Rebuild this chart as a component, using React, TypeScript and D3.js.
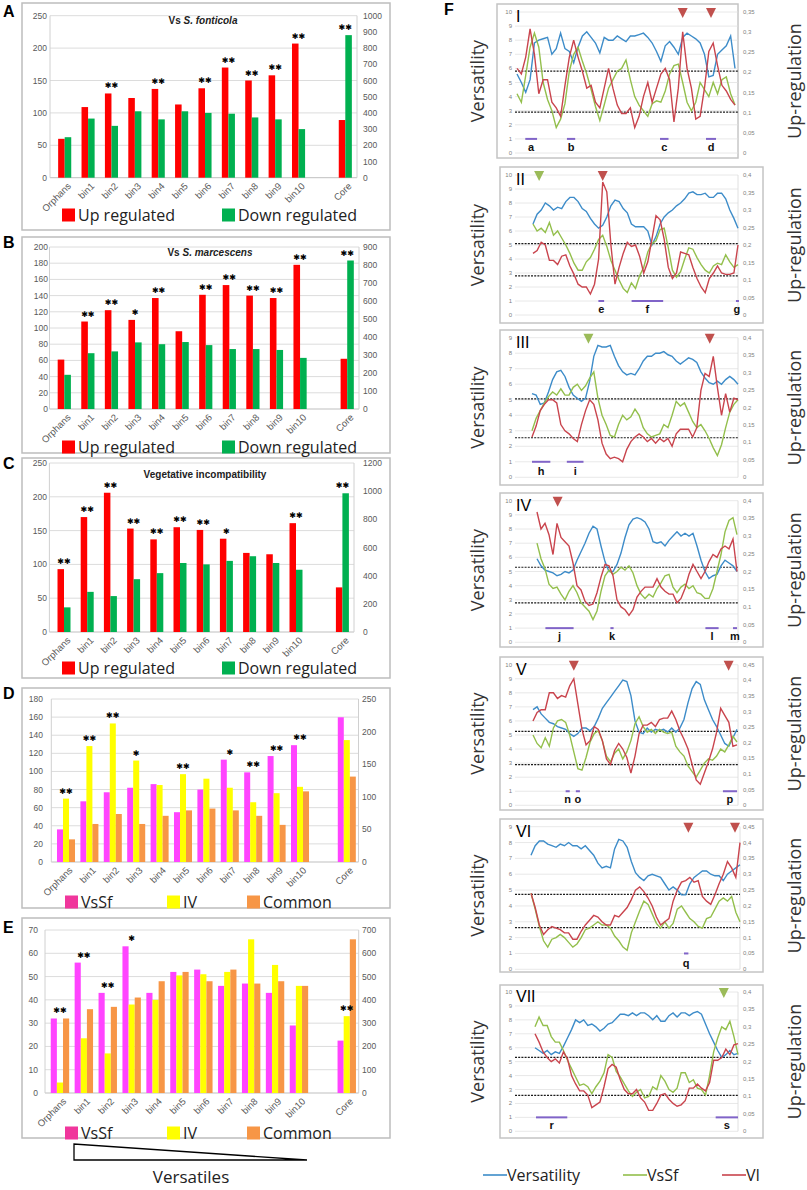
import * as d3 from 'd3';

// ---------- A–E : bar charts ----------
const CATEGORIES = ['Orphans', 'bin1', 'bin2', 'bin3', 'bin4', 'bin5', 'bin6', 'bin7', 'bin8', 'bin9', 'bin10', 'Core'];
const SLOTS = [...CATEGORIES.slice(0, 11), '', 'Core'];

const A_UP = [60, 109, 130, 123, 137, 113, 138, 170, 150, 158, 207, 89];
const A_DOWN = [250, 365, 320, 410, 360, 410, 400, 395, 372, 360, 300, 880];
const A_SIG = ['', '', '**', '', '**', '', '**', '**', '**', '**', '**', '**'];

const B_UP = [61, 108, 122, 110, 137, 96, 141, 153, 140, 137, 178, 62];
const B_DOWN = [190, 310, 320, 370, 360, 372, 355, 333, 333, 328, 284, 825];
const B_SIG = ['', '**', '**', '*', '**', '', '**', '**', '**', '**', '**', '**'];

const C_UP = [93, 170, 206, 153, 137, 155, 151, 138, 117, 115, 161, 66];
const C_DOWN = [175, 285, 255, 375, 418, 490, 480, 505, 538, 490, 442, 985];
const C_SIG = ['**', '**', '**', '**', '**', '**', '**', '*', '', '', '**', '**'];

const D_VSSF = [36, 67, 77, 82, 86, 55, 80, 113, 99, 117, 129, 222];
const D_IV = [70, 128, 153, 112, 85, 97, 92, 82, 66, 76, 83, 187];
const D_COMMON = [25, 42, 53, 42, 51, 57, 59, 57, 51, 41, 78, 131];
const D_SIG = ['**', '**', '**', '*', '', '**', '', '*', '**', '**', '**', ''];

const E_VSSF = [32, 56, 43, 63, 43, 52, 53, 46, 47, 43, 29, 225];
const E_IV = [4.5, 23.5, 17, 38, 40, 50.5, 51, 52, 66, 55, 46, 330];
const E_COMMON = [32, 36, 37, 41, 48, 52, 48, 53, 47, 48, 46, 660];
const E_SIG = ['**', '**', '**', '*', '', '', '', '', '', '', '', '**'];
const E_STAR_ON = [null, null, null, null, null, null, null, null, null, null, null, 1];

const RED = '#ff0000';
const GREEN = '#00b050';
const MAGENTA = '#ff44ff';
const YELLOW = '#ffff00';
const ORANGE = '#f79646';

const SANS = '"Liberation Sans", Arial, sans-serif';
const OPEN = '"Open Sans", "Noto Sans", sans-serif';

const UPDOWN_LEGEND = [
  { label: 'Up regulated', color: RED },
  { label: 'Down regulated', color: GREEN },
];
const OVERLAP_LEGEND = [
  { label: 'VsSf', color: '#f0369c' },
  { label: 'IV', color: YELLOW },
  { label: 'Common', color: ORANGE },
];

const BAR_PANELS = [
  {
    letter: 'A', title: ['Vs ', 'S. fonticola'], leftMax: 250, leftStep: 50, rightMax: 1000, rightStep: 100, pad: 0.44,
    series: [{ values: A_UP, color: RED, axis: 'left' }, { values: A_DOWN, color: GREEN, axis: 'right' }],
    sig: A_SIG, legend: UPDOWN_LEGEND,
    layout: { box: [22, 3, 390, 230], letterY: 17, titleX: 203, titleY: 24, x0: 53, x1: 357, yTop: 15.7, yBottom: 177.7, leftX: 47, rightX: 363, legendY: 215, legendX: [62, 222] },
  },
  {
    letter: 'B', title: ['Vs ', 'S. marcescens'], leftMax: 200, leftStep: 20, rightMax: 900, rightStep: 100, pad: 0.44,
    series: [{ values: B_UP, color: RED, axis: 'left' }, { values: B_DOWN, color: GREEN, axis: 'right' }],
    sig: B_SIG, legend: UPDOWN_LEGEND,
    layout: { box: [22, 237, 390, 453], letterY: 248, titleX: 210, titleY: 256, x0: 52.5, x1: 359, yTop: 247, yBottom: 409, leftX: 48, rightX: 363, legendY: 447, legendX: [62, 222] },
  },
  {
    letter: 'C', title: ['Vegetative incompatibility', ''], leftMax: 250, leftStep: 50, rightMax: 1200, rightStep: 200, pad: 0.44,
    series: [{ values: C_UP, color: RED, axis: 'left' }, { values: C_DOWN, color: GREEN, axis: 'right' }],
    sig: C_SIG, legend: UPDOWN_LEGEND,
    layout: { box: [22, 458, 390, 678], letterY: 469, titleX: 205, titleY: 478, x0: 52.4, x1: 354, yTop: 463, yBottom: 632, leftX: 47, rightX: 363, legendY: 668, legendX: [62, 222] },
  },
  {
    letter: 'D', title: ['', ''], leftMax: 180, leftStep: 20, rightMax: 250, rightStep: 50, pad: 0.23,
    series: [
      { values: D_VSSF, color: MAGENTA, axis: 'coreRight' },
      { values: D_IV, color: YELLOW, axis: 'coreRight' },
      { values: D_COMMON, color: ORANGE, axis: 'coreRight' },
    ],
    sig: D_SIG, legend: OVERLAP_LEGEND,
    layout: { box: [22, 688, 390, 908], letterY: 699, titleX: 0, titleY: 0, x0: 54.3, x1: 358.5, yTop: 699, yBottom: 862, leftX: 43, rightX: 362, legendY: 902, legendX: [65, 167, 247] },
  },
  {
    letter: 'E', title: ['', ''], leftMax: 70, leftStep: 10, rightMax: 700, rightStep: 100, pad: 0.23,
    series: [
      { values: E_VSSF, color: MAGENTA, axis: 'coreRight' },
      { values: E_IV, color: YELLOW, axis: 'coreRight' },
      { values: E_COMMON, color: ORANGE, axis: 'coreRight' },
    ],
    sig: E_SIG, starOn: E_STAR_ON, legend: OVERLAP_LEGEND,
    layout: { box: [22, 918, 390, 1138], letterY: 933, titleX: 0, titleY: 0, x0: 48, x1: 358.7, yTop: 930, yBottom: 1093, leftX: 38, rightX: 362, legendY: 1133, legendX: [65, 167, 247] },
  },
];

// ---------- F : sliding-window profiles ----------
const VERS_I = [5.6, 5.0, 4.3, 5.2, 7.8, 8.0, 8.1, 8.2, 7.0, 7.4, 8.5, 7.4, 7.2, 6.4, 7.5, 8.3, 8.6, 8.2, 7.8, 7.1, 8.2, 8.0, 8.0, 8.3, 8.1, 7.9, 8.3, 8.3, 8.4, 8.5, 8.2, 7.8, 7.2, 6.5, 7.6, 7.9, 7.5, 7.0, 8.2, 8.5, 8.3, 8.1, 7.8, 7.0, 5.4, 5.5, 7.0, 7.3, 7.6, 8.3, 6.0];
const VSSF_I = [4.2, 3.6, 5.5, 7.5, 8.5, 7.5, 5.0, 3.8, 3.0, 1.8, 2.4, 3.5, 5.8, 7.0, 7.5, 6.5, 5.6, 4.5, 3.3, 2.3, 3.4, 4.6, 5.2, 5.8, 6.0, 6.6, 5.2, 4.0, 3.4, 3.0, 2.6, 3.5, 3.7, 3.6, 4.4, 5.6, 6.2, 6.3, 5.0, 3.6, 3.0, 3.6, 5.0, 4.5, 4.0, 5.0, 4.2, 5.2, 5.4, 4.2, 3.4];
const VI_I = [6.0, 5.6, 6.8, 8.8, 7.0, 4.2, 5.2, 5.2, 3.6, 3.2, 2.6, 4.8, 6.8, 8.0, 6.8, 5.8, 4.6, 4.8, 3.6, 3.2, 4.6, 6.0, 4.6, 3.4, 2.8, 2.8, 3.2, 1.8, 2.6, 4.0, 5.0, 3.6, 4.6, 5.6, 6.0, 5.2, 2.2, 4.6, 8.6, 6.0, 4.6, 2.4, 2.6, 4.6, 7.2, 7.8, 6.2, 4.8, 4.4, 3.8, 3.4];

const VERS_II = [6.5, 7.2, 7.5, 8.0, 7.8, 7.5, 7.7, 7.6, 8.1, 8.4, 8.4, 8.1, 7.6, 7.4, 6.9, 6.5, 6.2, 6.4, 7.0, 7.8, 8.2, 8.1, 7.6, 7.3, 6.5, 6.3, 6.3, 6.3, 6.0, 5.0, 5.6, 6.5, 7.0, 7.3, 7.5, 7.8, 8.0, 8.3, 8.7, 8.8, 8.6, 8.6, 8.7, 8.4, 8.4, 8.7, 8.7, 8.3, 7.5, 6.9, 6.2];
const VSSF_II = [6.5, 6.0, 6.2, 5.9, 6.6, 5.7, 6.0, 5.5, 5.0, 4.4, 3.7, 3.2, 3.2, 3.8, 4.1, 4.7, 5.4, 5.7, 4.9, 3.9, 3.2, 2.5, 1.9, 1.6, 2.3, 1.9, 2.8, 3.4, 4.5, 5.1, 5.3, 6.1, 6.2, 4.8, 3.2, 2.7, 3.1, 4.0, 4.8, 4.7, 4.1, 3.6, 3.2, 3.0, 3.5, 3.7, 3.6, 4.3, 3.8, 3.4, 3.6];
const VI_II = [4.4, 4.6, 5.2, 5.0, 3.9, 3.9, 3.6, 4.2, 4.3, 3.5, 2.9, 2.2, 2.0, 2.0, 1.5, 2.2, 4.0, 9.5, 8.8, 5.0, 2.2, 3.4, 4.4, 5.2, 4.9, 5.0, 4.2, 3.0, 3.8, 5.4, 7.1, 6.8, 5.4, 3.4, 2.6, 3.0, 4.5, 4.4, 4.3, 3.4, 2.6, 2.0, 1.6, 2.6, 3.0, 3.5, 3.0, 2.9, 2.9, 3.0, 5.0];

const VERS_III = [5.4, 5.3, 4.7, 4.8, 5.5, 6.3, 6.8, 6.9, 6.5, 5.8, 5.3, 5.1, 4.9, 5.1, 6.2, 7.8, 8.5, 8.4, 8.4, 8.5, 7.8, 7.2, 6.8, 6.6, 6.7, 6.6, 7.0, 7.5, 7.8, 7.8, 8.0, 8.0, 8.1, 7.9, 7.8, 7.5, 7.3, 7.5, 7.7, 7.6, 7.4, 6.8, 6.4, 6.1, 6.0, 6.2, 6.0, 6.3, 6.5, 6.3, 6.0];
const VSSF_III = [3.0, 3.8, 4.3, 4.8, 5.2, 5.5, 5.3, 5.7, 5.3, 5.3, 5.8, 6.0, 5.6, 5.9, 6.4, 6.8, 5.1, 4.0, 3.4, 2.7, 2.6, 3.4, 4.0, 3.7, 3.9, 4.4, 4.0, 3.2, 2.8, 2.6, 2.7, 2.8, 3.4, 3.2, 4.0, 4.9, 4.6, 4.8, 4.2, 3.6, 3.2, 3.4, 3.0, 2.5, 1.9, 1.4, 2.1, 3.2, 4.2, 4.7, 5.0];
const VI_III = [2.6, 3.3, 4.3, 4.7, 5.0, 5.0, 4.8, 3.4, 3.0, 2.8, 2.5, 2.3, 3.4, 4.3, 5.0, 4.7, 3.7, 2.2, 1.5, 1.2, 1.3, 1.2, 1.0, 1.8, 2.3, 2.6, 2.8, 2.6, 2.3, 2.5, 2.2, 2.5, 2.3, 2.5, 2.0, 2.8, 3.1, 3.1, 3.1, 2.6, 3.2, 5.6, 6.7, 6.5, 7.8, 5.8, 4.0, 5.4, 4.2, 5.1, 5.0];

const VERS_IV = [5.9, 5.4, 5.1, 5.0, 4.9, 4.7, 4.8, 5.0, 4.9, 5.1, 5.8, 6.4, 7.0, 7.7, 8.2, 8.0, 6.8, 5.7, 5.0, 5.0, 5.5, 6.3, 7.4, 8.3, 8.7, 8.8, 8.7, 8.5, 8.0, 7.1, 7.0, 7.1, 6.8, 7.2, 7.5, 7.8, 7.5, 7.7, 7.5, 7.7, 6.8, 5.8, 5.0, 4.5, 4.7, 4.8, 5.4, 5.8, 5.6, 5.4, 5.0];
const VSSF_IV = [7.0, 5.9, 5.2, 4.1, 3.8, 3.9, 3.4, 3.0, 3.6, 4.0, 3.5, 2.8, 2.5, 2.2, 1.6, 2.2, 3.6, 4.7, 5.1, 4.8, 5.0, 5.3, 5.1, 5.4, 4.9, 4.0, 3.4, 3.1, 3.4, 3.2, 3.8, 4.2, 4.7, 4.8, 3.9, 3.5, 3.9, 4.1, 3.8, 4.0, 3.5, 3.4, 3.1, 3.1, 3.8, 5.0, 6.2, 7.8, 8.6, 8.8, 7.6];
const VI_IV = [9.2, 8.0, 8.4, 7.6, 6.2, 8.4, 7.4, 7.1, 6.8, 5.6, 4.0, 3.7, 2.9, 2.6, 2.7, 3.5, 4.6, 5.5, 5.4, 4.7, 3.0, 2.5, 2.3, 1.9, 2.3, 3.2, 3.6, 3.9, 3.9, 3.9, 4.5, 3.9, 3.6, 3.4, 3.4, 2.8, 3.1, 3.8, 4.8, 5.5, 5.0, 4.5, 5.0, 5.7, 6.2, 6.0, 6.6, 6.8, 6.6, 7.3, 5.0];

const VERS_V = [6.8, 7.0, 6.5, 6.2, 5.9, 5.8, 5.6, 5.5, 5.4, 5.1, 4.9, 5.1, 5.5, 5.5, 5.3, 5.6, 6.2, 6.9, 7.3, 7.7, 8.1, 8.5, 8.9, 8.8, 7.8, 6.0, 5.2, 5.1, 5.5, 5.2, 5.4, 5.3, 5.4, 5.2, 5.5, 5.2, 5.5, 6.1, 7.3, 8.3, 8.8, 8.6, 7.5, 6.8, 6.1, 5.6, 5.0, 4.4, 4.2, 4.8, 5.4];
const VSSF_V = [5.0, 4.4, 4.1, 4.8, 4.2, 5.5, 6.0, 6.1, 5.9, 5.0, 3.8, 2.6, 2.5, 3.4, 4.5, 5.1, 5.3, 4.6, 3.5, 3.1, 3.7, 4.0, 3.3, 3.8, 4.6, 5.8, 6.3, 5.6, 5.2, 5.4, 5.1, 5.4, 5.2, 5.1, 5.2, 4.2, 3.8, 3.5, 2.8, 2.4, 2.0, 2.5, 3.0, 3.3, 3.2, 3.5, 4.0, 3.8, 4.3, 4.9, 4.5];
const VI_V = [6.0, 6.6, 6.8, 6.8, 8.0, 8.0, 7.6, 7.8, 7.7, 8.5, 9.0, 7.2, 5.4, 4.3, 4.6, 5.6, 5.4, 4.6, 3.3, 2.9, 3.9, 4.4, 4.0, 3.4, 2.3, 3.5, 5.1, 5.7, 5.7, 5.9, 5.6, 6.1, 6.2, 6.2, 6.7, 6.1, 5.3, 4.7, 4.0, 2.9, 1.8, 1.5, 2.3, 3.1, 4.0, 5.2, 6.9, 6.4, 5.9, 4.2, 4.3];

const VERS_VI = [7.2, 7.8, 8.1, 8.1, 7.9, 7.8, 7.7, 7.9, 7.8, 8.0, 7.8, 7.8, 7.6, 7.8, 7.5, 7.2, 6.7, 6.4, 6.5, 6.4, 7.6, 8.2, 8.1, 7.7, 6.8, 6.1, 5.8, 5.6, 5.9, 6.0, 5.9, 5.8, 5.4, 5.0, 5.2, 5.0, 4.7, 4.7, 5.4, 5.8, 6.0, 6.2, 6.2, 6.0, 5.9, 5.9, 5.6, 6.0, 6.2, 6.4, 6.6];
const VSSF_VI = [4.8, 3.8, 2.7, 1.8, 1.4, 1.9, 2.0, 2.2, 2.0, 1.7, 1.4, 1.6, 2.0, 2.5, 2.6, 2.8, 3.0, 2.8, 2.8, 2.6, 2.1, 1.8, 1.4, 1.2, 2.3, 3.0, 3.7, 4.3, 4.1, 3.5, 2.9, 2.6, 3.0, 2.6, 2.9, 3.8, 4.0, 3.6, 3.2, 3.0, 2.7, 2.6, 3.2, 3.3, 3.8, 4.3, 4.5, 4.3, 4.6, 3.6, 3.0];
const VI_VI = [4.8, 3.9, 2.8, 2.2, 2.5, 2.7, 2.6, 2.5, 2.3, 2.3, 1.9, 1.9, 2.4, 2.8, 3.1, 3.4, 3.3, 3.0, 2.8, 2.8, 3.4, 3.3, 3.6, 3.9, 4.4, 5.0, 5.2, 4.9, 4.5, 4.0, 3.3, 2.8, 3.0, 3.2, 4.3, 5.0, 5.5, 5.6, 5.8, 5.5, 5.6, 4.6, 4.3, 4.1, 4.7, 5.4, 6.0, 6.8, 6.4, 5.8, 8.0];

const VERS_VII = [6.0, 5.8, 5.6, 5.8, 5.5, 5.7, 5.6, 6.1, 6.7, 7.3, 8.0, 7.8, 8.0, 7.6, 7.7, 7.5, 7.2, 7.4, 7.7, 7.8, 8.1, 8.4, 8.4, 8.3, 8.5, 8.3, 8.5, 8.5, 8.3, 8.0, 8.3, 7.9, 7.9, 8.3, 8.5, 8.2, 8.5, 8.5, 8.3, 8.5, 8.6, 8.4, 7.7, 7.0, 6.4, 5.8, 5.3, 5.5, 5.8, 5.5, 5.6];
const VSSF_VII = [7.5, 8.2, 7.6, 7.6, 6.8, 6.4, 6.4, 5.8, 5.1, 4.5, 3.9, 3.3, 3.4, 3.2, 2.7, 3.2, 3.6, 4.2, 5.5, 5.3, 4.3, 3.9, 3.4, 2.9, 2.5, 2.8, 3.0, 2.4, 2.5, 3.2, 3.0, 4.0, 3.6, 3.0, 2.8, 3.1, 4.2, 4.2, 3.5, 3.7, 3.1, 3.0, 2.6, 4.0, 5.7, 6.7, 7.5, 7.3, 7.9, 6.8, 5.5];
const VI_VII = [7.0, 6.4, 5.7, 5.3, 5.0, 5.2, 4.9, 5.7, 5.2, 4.0, 3.4, 2.9, 2.9, 2.6, 1.7, 1.9, 2.1, 3.2, 4.5, 4.8, 4.6, 3.7, 3.0, 2.7, 2.7, 3.0, 2.4, 2.1, 1.5, 1.5, 2.0, 2.6, 2.7, 2.3, 2.0, 1.8, 1.9, 2.2, 3.1, 3.1, 3.4, 3.1, 2.9, 3.5, 5.1, 5.1, 5.3, 5.9, 5.5, 6.2, 6.3];

const F_NAMES = ['I', 'II', 'III', 'IV', 'V', 'VI', 'VII'];
const F_LEFT_MAX = [10, 10, 9, 10, 10, 9, 10];
const F_RIGHT_MAX = [0.35, 0.4, 0.4, 0.4, 0.45, 0.45, 0.4];
const F_THRESHOLDS = [[5.8, 2.9], [5.1, 2.8], [5.05, 2.55], [5.3, 2.78], [5.26, 2.89], [4.73, 2.63], [5.31, 2.58]];
// regions: [label, start %, end %] along the window axis
const F_SEGMENTS = [
  [['a', 3.8, 9.2], ['b', 22.9, 26.7], ['c', 65.6, 69.5], ['d', 86.7, 91.3]],
  [['e', 31.9, 34.7], ['f', 48.1, 63.5], ['g', 99, 100]],
  [['h', 0, 8.9], ['i', 16.9, 25]],
  [['j', 4.2, 18.3], ['k', 36.7, 38.3], ['l', 84.2, 90.8], ['m', 98, 100]],
  [['n', 16, 18], ['o', 21, 23], ['p', 93.1, 100]],
  [['q', 73.2, 75.3]],
  [['r', 0.5, 15.9], ['s', 89, 100]],
];
// peak flags: [series, position %]
const F_PEAKS = [
  [['VI', 76], ['VI', 89]],
  [['VsSf', 3], ['VI', 34]],
  [['VsSf', 27.4], ['VI', 86.3]],
  [['VI', 10.3]],
  [['VI', 20], ['VI', 95.9]],
  [['VI', 75.3], ['VI', 97.6]],
  [['VsSf', 93]],
];
const F_VERS = [VERS_I, VERS_II, VERS_III, VERS_IV, VERS_V, VERS_VI, VERS_VII];
const F_VSSF = [VSSF_I, VSSF_II, VSSF_III, VSSF_IV, VSSF_V, VSSF_VI, VSSF_VII];
const F_VI = [VI_I, VI_II, VI_III, VI_IV, VI_V, VI_VI, VI_VII];

const LINE_COLORS = { Versatility: '#3d8cc9', VsSf: '#93bf4c', VI: '#c9444d' };
const PEAK_COLORS = { VI: '#c0504d', VsSf: '#9bbb59' };

const F_LAYOUT = [
  { box: [497, 4, 738, 158], yTop: 12, yBottom: 153, x0: 517, x1: 735 },
  { box: [500, 167, 763, 323], yTop: 175, yBottom: 315, x0: 533, x1: 738 },
  { box: [500, 330, 763, 485], yTop: 337.7, yBottom: 477.3, x0: 532, x1: 738 },
  { box: [500, 493, 763, 647], yTop: 500.7, yBottom: 642.3, x0: 537, x1: 737 },
  { box: [500, 657, 763, 810], yTop: 664.7, yBottom: 805.3, x0: 533, x1: 737 },
  { box: [500, 819, 763, 972], yTop: 826.7, yBottom: 969.3, x0: 531, x1: 740 },
  { box: [500, 985, 763, 1138], yTop: 992, yBottom: 1131.3, x0: 535, x1: 738 },
];

function BarPanel({ p }: { p: any }) {
  const L = p.layout;
  const x = d3.scaleBand<string>().domain(SLOTS).range([L.x0, L.x1]).paddingInner(p.pad).paddingOuter(p.pad / 2);
  const xs = d3.scaleBand<number>().domain(d3.range(p.series.length)).range([0, x.bandwidth()]);
  const yL = d3.scaleLinear().domain([0, p.leftMax]).range([L.yBottom, L.yTop]);
  const yR = d3.scaleLinear().domain([0, p.rightMax]).range([L.yBottom, L.yTop]);
  const scaleFor = (s: any, cat: string) =>
    s.axis === 'right' || (s.axis === 'coreRight' && cat === 'Core') ? yR : yL;
  const leftTicks = d3.range(0, p.leftMax + 1e-6, p.leftStep);
  const rightTicks = d3.range(0, p.rightMax + 1e-6, p.rightStep);
  const [bx0, by0, bx1, by1] = L.box;

  return (
    <g>
      <rect x={bx0} y={by0} width={bx1 - bx0} height={by1 - by0} fill="#fff" stroke="#bdbdbd" strokeWidth={1.5} />
      <text x={3} y={L.letterY} fontFamily={SANS} fontWeight="bold" fontSize={16} fill="#000">{p.letter}</text>
      {leftTicks.map((t) => (
        <line key={'g' + t} x1={L.x0 - 3} x2={L.x1} y1={yL(t)} y2={yL(t)} stroke={t === 0 ? '#bfbfbf' : '#dcdcdc'} strokeWidth={1} />
      ))}
      <line x1={L.x0 - 3} x2={L.x0 - 3} y1={L.yTop} y2={L.yBottom} stroke="#d0d0d0" />
      <line x1={L.x1} x2={L.x1} y1={L.yTop} y2={L.yBottom} stroke="#d0d0d0" />
      {leftTicks.map((t) => (
        <text key={'l' + t} x={L.leftX} y={yL(t) + 3} textAnchor="end" fontFamily={SANS} fontSize={8.5} fill="#595959">{t}</text>
      ))}
      {rightTicks.map((t) => (
        <text key={'r' + t} x={L.rightX} y={yR(t) + 3} fontFamily={SANS} fontSize={8.5} fill="#595959">{t}</text>
      ))}
      {p.title[0] && (
        <text x={L.titleX} y={L.titleY} textAnchor="middle" fontFamily={SANS} fontWeight="bold" fontSize={10} fill="#222">
          <tspan>{p.title[0]}</tspan>
          <tspan fontStyle="italic">{p.title[1]}</tspan>
        </text>
      )}
      {CATEGORIES.map((cat, i) => (
        <g key={cat}>
          {p.series.map((s: any, j: number) => {
            const y = scaleFor(s, cat);
            const v = s.values[i];
            return (
              <rect key={j} x={(x(cat) as number) + (xs(j) as number)} y={y(v)} width={xs.bandwidth()} height={L.yBottom - y(v)} fill={s.color} />
            );
          })}
        </g>
      ))}
      {CATEGORIES.map((cat, i) => {
        if (!p.sig[i]) return null;
        const on = p.starOn ? p.starOn[i] : null;
        const tops = p.series.map((s: any) => scaleFor(s, cat)(s.values[i]));
        const top = on != null ? tops[on] : Math.min(...tops);
        const cx = (x(cat) as number) + x.bandwidth() / 2;
        return (
          <text key={'s' + cat} x={cx} y={top - 5} textAnchor="middle" fontFamily='"DejaVu Sans", sans-serif' fontSize={8} fill="#000">
            {p.sig[i] === '**' ? '\u2731\u2731' : '\u2731'}
          </text>
        );
      })}
      {CATEGORIES.map((cat) => {
        const cx = (x(cat) as number) + x.bandwidth() / 2;
        return (
          <text key={'x' + cat} transform={`translate(${cx + 7},${L.yBottom + 9}) rotate(-45)`} textAnchor="end" fontFamily={SANS} fontSize={9.5} fill="#595959">
            {cat}
          </text>
        );
      })}
      {p.legend.map((item: any, k: number) => (
        <g key={item.label}>
          <rect x={L.legendX[k]} y={L.legendY - 6.5} width={13} height={13} fill={item.color} />
          <text x={L.legendX[k] + 16} y={L.legendY + 6} fontFamily={OPEN} fontSize={16} fill="#222">{item.label}</text>
        </g>
      ))}
    </g>
  );
}

function FPanel({ k }: { k: number }) {
  const L = F_LAYOUT[k];
  const vers = F_VERS[k];
  const x = d3.scaleLinear().domain([0, vers.length - 1]).range([L.x0, L.x1]);
  const xp = d3.scaleLinear().domain([0, 100]).range([L.x0, L.x1]);
  const y = d3.scaleLinear().domain([0, F_LEFT_MAX[k]]).range([L.yBottom, L.yTop]);
  const yr = d3.scaleLinear().domain([0, F_RIGHT_MAX[k]]).range([L.yBottom, L.yTop]);
  const line = d3.line<number>().x((_, i) => x(i)).y((v) => y(v));
  const leftTicks = d3.range(0, F_LEFT_MAX[k] + 1);
  const rightSteps = d3.range(0, Math.round(F_RIGHT_MAX[k] / 0.05) + 1);
  const [bx0, by0, bx1, by1] = L.box;
  const cy = (by0 + by1) / 2;
  const gx0 = 515;
  const gx1 = Math.max(L.x1, 738);

  return (
    <g>
      <rect x={bx0} y={by0} width={bx1 - bx0} height={by1 - by0} fill="#fff" stroke="#c4c4c4" strokeWidth={1.5} />
      {leftTicks.map((t) => (
        <line key={'g' + t} x1={gx0} x2={gx1} y1={y(t)} y2={y(t)} stroke="#e2e2e2" strokeWidth={0.8} />
      ))}
      <line x1={gx1} x2={gx1} y1={L.yTop} y2={L.yBottom} stroke="#d8d8d8" strokeWidth={0.8} />
      {leftTicks.map((t) => (
        <text key={'l' + t} x={512} y={y(t) + 2} textAnchor="end" fontFamily={SANS} fontSize={6} fill="#7f7f7f">{t}</text>
      ))}
      {rightSteps.map((s) => {
        const v = (s * 5) / 100;
        return (
          <text key={'r' + s} x={743} y={yr(v) + 2} fontFamily={SANS} fontSize={6} fill="#7f7f7f">
            {s === 0 ? '0' : String(v).replace('.', ',')}
          </text>
        );
      })}
      {F_THRESHOLDS[k].map((t, i) => (
        <line key={'t' + i} x1={gx0} x2={gx1} y1={y(t)} y2={y(t)} stroke="#1a1a1a" strokeWidth={1.2} strokeDasharray="2 1.2" />
      ))}
      {F_SEGMENTS[k].map(([lab, a, b]: any) => (
        <g key={lab}>
          <line x1={xp(a)} x2={Math.max(xp(b), xp(a) + 3)} y1={y(1)} y2={y(1)} stroke="#8064c8" strokeWidth={2} />
          <text x={(xp(a) + xp(b)) / 2} y={L.yBottom - 2} textAnchor="middle" fontFamily={SANS} fontWeight="bold" fontSize={11} fill="#111">{lab}</text>
        </g>
      ))}
      <path d={line(vers) as string} fill="none" stroke={LINE_COLORS.Versatility} strokeWidth={1.4} />
      <path d={line(F_VSSF[k]) as string} fill="none" stroke={LINE_COLORS.VsSf} strokeWidth={1.4} />
      <path d={line(F_VI[k]) as string} fill="none" stroke={LINE_COLORS.VI} strokeWidth={1.4} />
      {F_PEAKS[k].map(([s, pos]: any, i: number) => {
        const px = xp(pos);
        const t = L.yTop - 4;
        return (
          <path key={'p' + i} d={`M${px - 5},${t}L${px + 5},${t}L${px},${t + 10}Z`} fill={(PEAK_COLORS as any)[s]} />
        );
      })}
      <text x={516} y={L.yTop + 10} fontFamily={SANS} fontSize={16} fill="#000">{F_NAMES[k]}</text>
      <text transform={`translate(484,${cy}) rotate(-90)`} textAnchor="middle" fontFamily={OPEN} fontSize={18} fill="#333">Versatility</text>
      <text transform={`translate(801,${cy}) rotate(-90)`} textAnchor="middle" fontFamily={OPEN} fontSize={18} fill="#333">Up-regulation</text>
    </g>
  );
}

const F_LEGEND = [
  { label: 'Versatility', key: 'Versatility', x: 483 },
  { label: 'VsSf', key: 'VsSf', x: 623 },
  { label: 'VI', key: 'VI', x: 722 },
];

export default function App() {
  return (
    <svg width={807} height={1190} viewBox="0 0 807 1190" style={{ position: 'absolute', left: 0, top: 0, background: '#fff' }}>
      <rect width={807} height={1190} fill="#fff" />
      {BAR_PANELS.map((p) => (
        <BarPanel key={p.letter} p={p} />
      ))}
      <path d="M74,1144L74,1160L307,1160Z" fill="none" stroke="#000" strokeWidth={1.3} />
      <text x={191} y={1183} textAnchor="middle" fontFamily={OPEN} fontSize={17} fill="#222">Versatiles</text>

      <text x={444} y={15} fontFamily={SANS} fontWeight="bold" fontSize={16} fill="#000">F</text>
      {F_LAYOUT.map((_, k) => (
        <FPanel key={k} k={k} />
      ))}
      {F_LEGEND.map((item) => (
        <g key={item.key}>
          <line x1={item.x} x2={item.x + 24} y1={1175} y2={1175} stroke={(LINE_COLORS as any)[item.key]} strokeWidth={1.6} />
          <text x={item.x + 24} y={1181} fontFamily={OPEN} fontSize={16} fill="#222">{item.label}</text>
        </g>
      ))}
    </svg>
  );
}
